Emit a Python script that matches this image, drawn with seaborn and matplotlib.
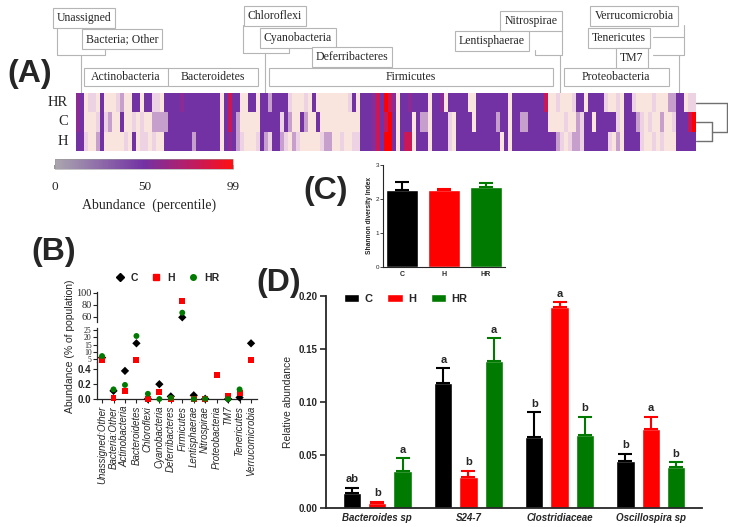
import numpy as np
import pandas as pd
import matplotlib.pyplot as plt
import matplotlib.colors as mcolors
from matplotlib.patches import Rectangle
from matplotlib.transforms import Bbox
import seaborn as sns

sns.set_theme(style='ticks')
plt.rcParams['font.family'] = ['Liberation Sans', 'DejaVu Sans']
SERIF = ['Liberation Serif', 'DejaVu Serif']

# ---------------- data ----------------
# (A) heatmap: one character per OTU column, digit = abundance level index
heat_rows = ['HR', 'C', 'H']
heat_hr = ("4301103000" "1200330331" "1033334333" "3333330353" "3003303323"
           "3331000103" "0000000013" "0333453654" "0334333303" "3403333300"
           "3333333303" "3333333500" "1000133033" "3310010331" "0000100022" "33011")
heat_c = ("4300013120" "0300101002" "2223333333" "3333330353" "2000003333"
          "3132003200" "3000000000" "0333453563" "0333032203" "3331033330"
          "3333323303" "3223333300" "0010021330" "3333310333" "2101002001" "33356")
heat_h = ("3310023000" "0010301101" "0033333332" "3333330343" "2100013213"
          "3210210000" "0122001001" "1333453663" "0355033303" "3331033333"
          "3333330303" "3333333333" "2101221333" "3331020333" "3100101000" "33333")
heat_levels = [4, 18, 32, 50, 62, 80, 99]   # percentile for each level digit
cluster_ch_height = 0.52                    # C and H join first
cluster_root_height = 1.0                   # then HR

# phylum labels above the heatmap
phylum_boxes = ['Unassigned', 'Bacteria; Other', 'Chloroflexi', 'Cyanobacteria',
                'Deferribacteres', 'Nitrospirae', 'Lentisphaerae',
                'Verrucomicrobia', 'Tenericutes', 'TM7']
phylum_bars = ['Actinobacteria', 'Bacteroidetes', 'Firmicutes', 'Proteobacteria']

# (B) phylum abundance (% of population)
phyla = ['Unassigned:Other', 'Bacteria:Other', 'Actinobacteria', 'Bacteroidetes',
         'Chloroflexi', 'Cyanobacteria', 'Deferribacteres', 'Firmicutes',
         'Lentisphaerae', 'Nitrospirae', 'Proteobacteria', 'TM7', 'Tenericutes',
         'Verrucomicrobia']
phyla_C = [6.1, 0.11, 0.38, 15.9, 0.0, 0.20, 0.035, 59.0, 0.05, 0.003, np.nan, 0.0, 0.02, 15.9]
phyla_H = [4.4, 0.013, 0.11, 4.4, 0.0, 0.09, 0.005, 86.7, 0.0, 0.003, 0.33, 0.035, 0.08, 4.4]
phyla_HR = [7.2, 0.13, 0.19, 20.9, 0.07, 0.0, 0.015, 66.7, 0.0, 0.002, np.nan, 0.0, 0.13, np.nan]

# (C) Shannon diversity
groups = ['C', 'H', 'HR']
shannon_mean = [2.27, 2.25, 2.35]
shannon_sem = [0.24, 0.05, 0.11]

# (D) relative abundance of genera
taxa = ['Bacteroides sp', 'S24-7', 'Clostridiaceae', 'Oscillospira sp']
rel_C = [0.014, 0.118, 0.067, 0.044]
rel_C_sem = [0.005, 0.014, 0.023, 0.007]
rel_H = [0.004, 0.029, 0.189, 0.074]
rel_H_sem = [0.0017, 0.006, 0.005, 0.012]
rel_HR = [0.035, 0.138, 0.069, 0.038]
rel_HR_sem = [0.012, 0.022, 0.017, 0.0054]
letters_C = ['ab', 'a', 'b', 'b']
letters_H = ['b', 'b', 'a', 'a']
letters_HR = ['a', 'a', 'b', 'b']

group_colors = {'C': '#000000', 'H': '#ff0000', 'HR': '#007a00'}

# ---------------- figure ----------------
W, H = 736, 527
fig = plt.figure(figsize=(W / 100, H / 100), dpi=100)


def box(x0, y0, x1, y1):
    return [x0 / W, 1 - y1 / H, (x1 - x0) / W, (y1 - y0) / H]


# overlay in pixel coordinates for annotation boxes and connectors
ov = fig.add_axes([0, 0, 1, 1])
ov.set_xlim(0, W)
ov.set_ylim(H, 0)
ov.axis('off')

# ---- (A) heatmap ----
heat = np.array([[heat_levels[int(ch)] for ch in s] for s in (heat_hr, heat_c, heat_h)])
heat_df = pd.DataFrame(heat, index=heat_rows)
heat_cmap = mcolors.LinearSegmentedColormap.from_list(
    'abund', [(0, '#fde9dd'), (0.18, '#ecd2e2'), (0.32, '#c7a0cc'),
              (0.505, '#7332a3'), (0.63, '#8a2b96'), (0.8, '#c8195a'), (1, '#ff0000')])
axA = fig.add_axes(box(76, 93, 696, 151))
sns.heatmap(heat_df, ax=axA, cmap=heat_cmap, vmin=0, vmax=99, cbar=False,
            xticklabels=False, yticklabels=True)
axA.set_yticklabels(heat_rows, rotation=0, fontfamily=SERIF, fontsize=10.5)
axA.tick_params(axis='y', length=0, pad=6)
axA.set_ylabel('')

# dendrogram
axDen = fig.add_axes(box(696, 93, 728, 151))
rows_y = np.arange(len(heat_rows)) + 0.5
lc = '#707070'
ch_mid = (rows_y[1] + rows_y[2]) / 2
for yy in rows_y[1:]:
    axDen.plot([0, cluster_ch_height], [yy, yy], color=lc, lw=1)
axDen.plot([cluster_ch_height] * 2, [rows_y[1], rows_y[2]], color=lc, lw=1)
axDen.plot([cluster_ch_height, cluster_root_height], [ch_mid, ch_mid], color=lc, lw=1)
axDen.plot([0, cluster_root_height], [rows_y[0], rows_y[0]], color=lc, lw=1)
axDen.plot([cluster_root_height] * 2, [rows_y[0], ch_mid], color=lc, lw=1)
axDen.set_xlim(0, 1.04)
axDen.set_ylim(len(heat_rows), 0)
axDen.axis('off')

# colorbar
bar_cmap = mcolors.LinearSegmentedColormap.from_list(
    'bar', [(0, '#aaa6ae'), (0.5, '#7332a3'), (0.8, '#c41a5a'), (1, '#ff1010')])
cax = fig.add_axes(box(55, 159, 233, 169))
cb = fig.colorbar(plt.cm.ScalarMappable(norm=mcolors.Normalize(0, 99), cmap=bar_cmap),
                  cax=cax, orientation='horizontal', ticks=[0, 50, 99])
cb.outline.set_linewidth(0.4)
cb.outline.set_edgecolor('#999999')
cax.tick_params(axis='x', direction='in', length=3, color='#888888', pad=9)
cax.set_xticklabels(['0', '50', '99'], fontfamily=SERIF, fontsize=9.5)
fig.text(149 / W, 1 - 205 / H, 'Abundance  (percentile)', ha='center', va='center',
         fontfamily=SERIF, fontsize=10)

# phylum label boxes
box_pos = [(84, 18), (122, 39), (275, 16), (298, 38), (352, 57), (531, 21),
           (492, 41), (634, 16), (619, 38), (632, 58)]
for name, (bx, by) in zip(phylum_boxes, box_pos):
    ov.text(bx, by, name, ha='center', va='center', fontfamily=SERIF, fontsize=8.5,
            bbox=dict(boxstyle='square,pad=0.35', fc='white', ec='#b5b5b5', lw=0.8))

bar_rects = [(84, 258), (269, 553), (564, 669)]
for x0, x1 in bar_rects:
    ov.add_patch(Rectangle((x0, 68), x1 - x0, 18, fc='white', ec='#b5b5b5', lw=0.8))
ov.plot([168, 168], [68, 86], color='#b5b5b5', lw=0.8)
bar_centers = [126, 213, 411, 616]
for name, cx in zip(phylum_bars, bar_centers):
    ov.text(cx, 77, name, ha='center', va='center', fontfamily=SERIF, fontsize=8.5)

connectors = [
    [(57, 27), (57, 55), (105, 55), (105, 49)],
    [(81, 55), (81, 93)],
    [(243, 25), (243, 53), (289, 53), (289, 47)],
    [(265, 53), (265, 93)],
    [(535, 50), (535, 55), (562, 55), (562, 29)],
    [(560, 55), (560, 93)],
    [(684, 25), (684, 55), (653, 55)],
    [(653, 37), (684, 37)],
    [(679, 55), (679, 93)],
]
for line in connectors:
    xs, ys = zip(*line)
    ov.plot(xs, ys, color='#b5b5b5', lw=0.8)

# ---- (B) broken-axis scatter ----
dfB = pd.DataFrame({
    'phylum': pd.Categorical(phyla * 3, categories=phyla),
    'group': ['C'] * len(phyla) + ['H'] * len(phyla) + ['HR'] * len(phyla),
    'value': phyla_C + phyla_H + phyla_HR,
}).dropna()
dfB['pos'] = dfB['phylum'].cat.codes

segments = [
    (box(97, 291.7, 257, 321.7), (51.7, 101.7), [60, 80, 100], 7.5, 'normal'),
    (box(97, 328.5, 257, 362), (3.15, 26), [5, 10, 15, 20, 25], 5.5, 'normal'),
    (box(97, 362, 257, 399), (0, 0.5), [0.0, 0.2, 0.4], 7, 'bold'),
]
markers = {'C': 'D', 'H': 's', 'HR': 'o'}
axesB = []
for rect, ylim, ticks, fsize, wt in segments:
    ax = fig.add_axes(rect)
    ax.patch.set_alpha(0)
    sub = dfB[(dfB['value'] >= ylim[0]) & (dfB['value'] <= ylim[1])]
    sns.scatterplot(data=sub, x='pos', y='value', hue='group', style='group',
                    markers=markers, palette=group_colors, s=18, linewidth=0,
                    legend=False, ax=ax, clip_on=False, zorder=3)
    ax.set_xlim(-0.44, len(phyla) - 0.48)
    ax.set_ylim(*ylim)
    ax.set_yticks(ticks)
    if wt == 'bold':
        ax.set_yticklabels([f'{t:.1f}' for t in ticks], fontweight='bold', fontsize=fsize)
    else:
        ax.set_yticklabels([str(t) for t in ticks], fontfamily=SERIF, fontsize=fsize)
    ax.tick_params(axis='y', length=3, width=0.8, pad=1)
    ax.set_xlabel('')
    ax.set_ylabel('')
    for s in ['top', 'right']:
        ax.spines[s].set_visible(False)
    ax.spines['left'].set_linewidth(0.9)
    axesB.append(ax)

for ax in axesB[:2]:
    ax.spines['bottom'].set_visible(False)
    ax.set_xticks([])
axb = axesB[2]
axb.spines['bottom'].set_linewidth(0.9)
axb.set_xticks(range(len(phyla)))
axb.set_xticklabels(phyla, rotation=90, fontstyle='italic', fontsize=7)
axb.tick_params(axis='x', length=3, width=0.8, pad=2)

fig.text(70 / W, 1 - 346 / H, 'Abundance (% of population)', rotation=90,
         ha='center', va='center', fontsize=7.5)

handles = [plt.Line2D([], [], ls='none', marker=markers[g], color=group_colors[g],
                      markersize=4) for g in groups]
fig.legend(handles, groups, loc='center', bbox_to_anchor=(167 / W, 1 - 278 / H),
           ncol=3, frameon=False, handlelength=1.0, handletextpad=0.6,
           columnspacing=1.2, prop={'weight': 'bold', 'size': 7.5})

# ---- (C) Shannon diversity ----
axC = fig.add_axes(box(383, 165, 505, 267))
sns.barplot(x=groups, y=shannon_mean, hue=groups, palette=group_colors, width=0.78,
            saturation=1, legend=False, ax=axC)
for i, (m, e) in enumerate(zip(shannon_mean, shannon_sem)):
    axC.errorbar(i, m, yerr=[[0], [e]], fmt='none', ecolor=group_colors[groups[i]],
                 elinewidth=1.5, capsize=5, capthick=1.5)
axC.set_xlim(-0.45, 2.45)
axC.set_ylim(0, 3)
axC.set_yticks([0, 1, 2, 3])
axC.set_yticklabels(['0', '1', '2', '3'], fontsize=4.5)
axC.tick_params(axis='y', length=2, width=0.6, pad=1)
axC.tick_params(axis='x', length=0, labelsize=5, pad=3)
for lbl in axC.get_xticklabels():
    lbl.set_fontweight('bold')
axC.set_ylabel('Shannon diversity Index', fontsize=4.8, fontweight='bold', labelpad=2)
sns.despine(ax=axC)
for s in ['left', 'bottom']:
    axC.spines[s].set_linewidth(0.8)

# ---- (D) relative abundance ----
dfD = pd.DataFrame({
    'taxon': taxa * 3,
    'group': ['C'] * 4 + ['H'] * 4 + ['HR'] * 4,
    'value': rel_C + rel_H + rel_HR,
    'sem': rel_C_sem + rel_H_sem + rel_HR_sem,
    'letter': letters_C + letters_H + letters_HR,
})
axD = fig.add_axes(box(326, 295.7, 702, 507.7))
sns.barplot(data=dfD, x='taxon', y='value', hue='group', palette=group_colors,
            width=0.83, gap=0.28, errorbar=None, saturation=1, ax=axD)
for grp, cont in zip(groups, axD.containers):
    sub = dfD[dfD['group'] == grp]
    for bar, (_, row) in zip(cont, sub.iterrows()):
        cx = bar.get_x() + bar.get_width() / 2
        axD.errorbar(cx, row['value'], yerr=[[0], [row['sem']]], fmt='none',
                     ecolor=group_colors[grp], elinewidth=1.5, capsize=4.7, capthick=1.5)
        axD.text(cx, row['value'] + row['sem'] + 0.003, row['letter'], ha='center',
                 va='bottom', fontsize=8, fontweight='bold', clip_on=False)
axD.set_ylim(0, 0.2)
axD.set_yticks([0, 0.05, 0.10, 0.15, 0.20])
axD.set_yticklabels([f'{t:.2f}' for t in [0, 0.05, 0.10, 0.15, 0.20]],
                    fontweight='bold', fontsize=7)
axD.tick_params(axis='y', length=4, width=1.2, pad=2)
axD.tick_params(axis='x', length=0, pad=4)
for lbl in axD.get_xticklabels():
    lbl.set_fontweight('bold')
    lbl.set_fontstyle('italic')
    lbl.set_fontsize(7)
axD.set_xlabel('')
axD.set_ylabel('Relative abundance', fontsize=7.5, labelpad=4)
sns.despine(ax=axD)
for s in ['left', 'bottom']:
    axD.spines[s].set_linewidth(1.3)
sns.move_legend(axD, 'center left', bbox_to_anchor=(0.02, 0.985), ncol=3,
                frameon=False, title=None, handlelength=1.4, handleheight=0.7,
                columnspacing=1.3, handletextpad=0.5, prop={'weight': 'bold', 'size': 8})
# the last tick label is cut at the right, as in the source figure
clip = Bbox([[0, 0], [687, H]])
for lbl in axD.get_xticklabels():
    lbl.set_clip_box(clip)
    lbl.set_clip_on(True)

# panel letters
for letter, (px, py) in zip(['(A)', '(B)', '(C)', '(D)'],
                            [(30, 74), (54, 252), (326, 191), (279, 283)]):
    fig.text(px / W, 1 - py / H, letter, ha='center', va='center', fontsize=23,
             fontweight='bold')

fig.savefig('out.png', dpi=100)
